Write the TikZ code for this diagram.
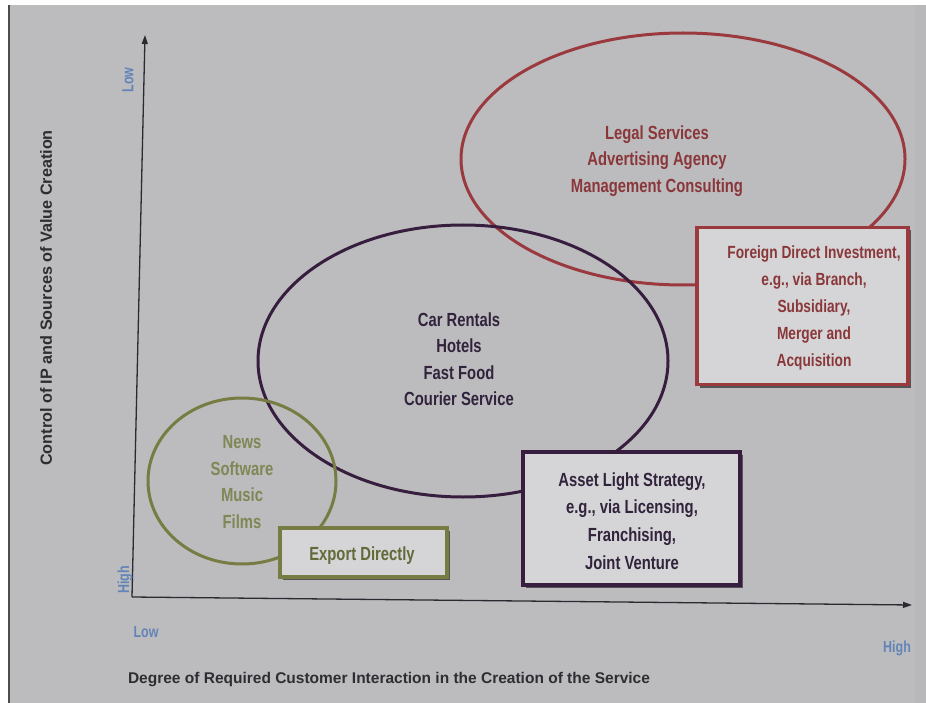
\documentclass[tikz,border=0pt]{standalone}
\usepackage{fontspec}
\setmainfont{Liberation Sans}
\newfontfamily\condfont[FakeStretch=0.78]{Liberation Sans}
\usetikzlibrary{shapes.geometric,shadows,arrows.meta}

\definecolor{pagebg}{RGB}{188,188,191}
\definecolor{boxfill}{RGB}{213,213,215}
\definecolor{redline}{RGB}{155,58,62}
\definecolor{redtxt}{RGB}{138,55,58}
\definecolor{purpline}{RGB}{55,30,62}
\definecolor{purptxt}{RGB}{50,35,60}
\definecolor{oliveline}{RGB}{118,124,66}
\definecolor{olivetxt}{RGB}{128,134,84}
\definecolor{olivedark}{RGB}{98,106,58}
\definecolor{axisblue}{RGB}{98,132,182}
\definecolor{axisline}{RGB}{42,42,48}
\definecolor{titletxt}{RGB}{45,45,50}

\tikzset{
  zone/.style={ellipse, draw, line width=3pt, inner sep=0pt},
  itemtext/.style={font=\condfont\bfseries\fontsize{19}{26.5}\selectfont, align=center, inner sep=0pt},
  modebox/.style={draw, line width=3.5pt, fill=boxfill, inner sep=0pt,
    drop shadow={shadow xshift=3pt, shadow yshift=-3pt, fill=black, opacity=0.55}},
  scalelabel/.style={font=\condfont\bfseries\fontsize{16}{16}\selectfont, text=axisblue, inner sep=0pt},
  axistitle/.style={font=\bfseries\fontsize{15.5}{15.5}\selectfont, text=titletxt, inner sep=0pt},
  axisarrow/.style={draw=axisline, line width=1.3pt, -{Triangle[length=9pt,width=6pt]}}
}

\begin{document}
\begin{tikzpicture}[x=1pt, y=-1pt]
  % page
  \useasboundingbox (0,0) rectangle (926,703);
  \fill[white] (0,0) rectangle (926,703);
  \fill[pagebg] (9,5) rectangle (926,703);
  \fill[black!30, opacity=0.35] (915,5) rectangle (926,703);
  \draw[black!70, line width=1.2pt] (9,5) -- (9,703);

  % axes
  \coordinate (origin) at (132,597);
  \coordinate (ytop) at (145,35);
  \coordinate (xend) at (912,605);
  \draw[axisarrow] (origin) -- (ytop);
  \draw[axisarrow] (origin) -- (xend);

  \node[scalelabel, rotate=90] (ylow) at (128,80) {Low};
  \node[scalelabel, rotate=90] (yhigh) at (125,580) {High};
  \node[scalelabel] (xlow) at (146,632) {Low};
  \node[scalelabel] (xhigh) at (897,648) {High};

  \node[axistitle, rotate=90, font=\bfseries\fontsize{16.2}{16.2}\selectfont] (ytitle) at (46,298) {Control of IP and Sources of Value Creation};
  \node[axistitle] (xtitle) at (389,680) {Degree of Required Customer Interaction in the Creation of the Service};

  % zones
  \node[zone, draw=redline, minimum width=444pt, minimum height=252pt] (highzone) at (683,159) {};
  \node[zone, draw=purpline, minimum width=410pt, minimum height=272pt] (midzone) at (463,361) {};
  \node[zone, draw=oliveline, minimum width=188pt, minimum height=166pt] (lowzone) at (242,481) {};

  \node[itemtext, text=redtxt] (hightext) at (657,161)
    {Legal Services\\Advertising Agency\\Management Consulting};
  \node[itemtext, text=purptxt] (midtext) at (459,359)
    {Car Rentals\\Hotels\\Fast Food\\Courier Service};
  \node[itemtext, text=olivetxt] (lowtext) at (242,482)
    {News\\Software\\Music\\Films};

  % entry modes
  \node[modebox, draw=redline, minimum width=211pt, minimum height=157pt] (fdibox) at (802.5,306) {};
  \node[itemtext, text=redtxt, font=\condfont\bfseries\fontsize{17.6}{26.8}\selectfont] (fditext) at (814,308)
    {Foreign Direct Investment,\\e.g., via Branch,\\Subsidiary,\\Merger and\\Acquisition};

  \node[modebox, draw=purpline, minimum width=217pt, minimum height=133pt] (assetbox) at (631.5,518.5) {};
  \node[itemtext, text=purptxt, font=\condfont\bfseries\fontsize{19}{27.6}\selectfont] (assettext) at (632,521)
    {Asset Light Strategy,\\e.g., via Licensing,\\Franchising,\\Joint Venture};

  \node[modebox, draw=oliveline, minimum width=167pt, minimum height=49pt] (exportbox) at (363.5,552.5) {};
  \node[itemtext, text=olivedark] (exporttext) at (362,556) {Export Directly};
\end{tikzpicture}
\end{document}
